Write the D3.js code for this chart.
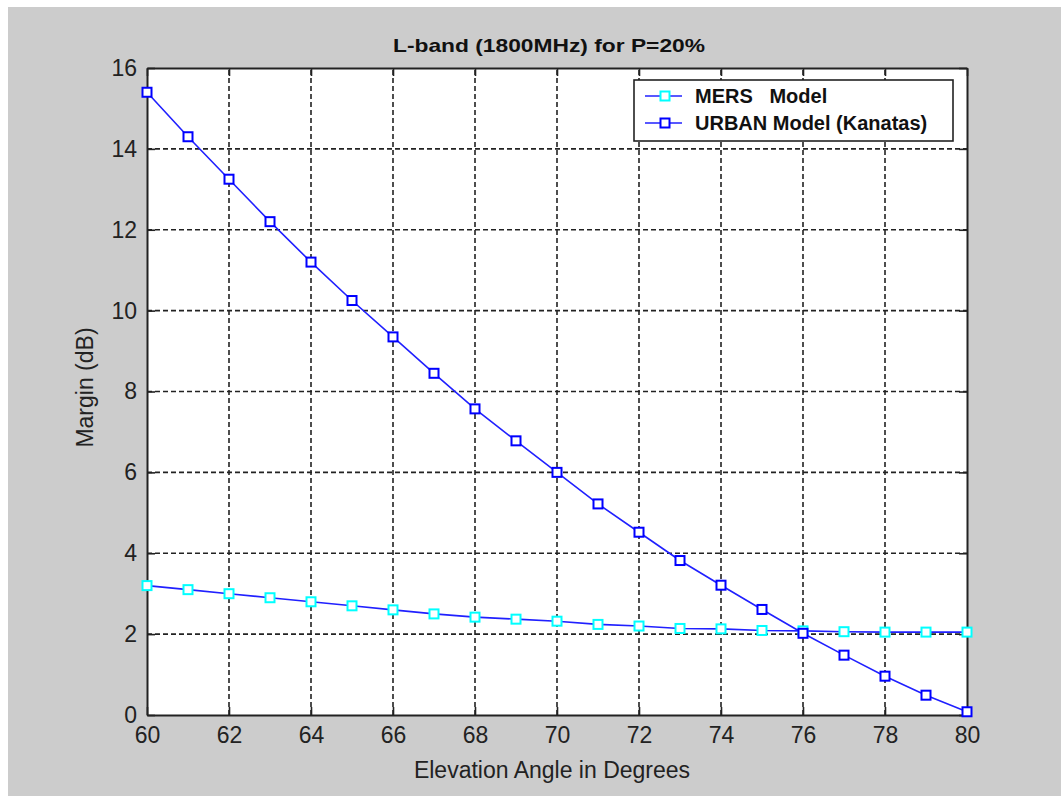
<!DOCTYPE html>
<html>
<head>
<meta charset="utf-8">
<script src="https://cdn.jsdelivr.net/npm/d3@7"></script>
<style>
  body { margin: 0; background: #fff; }
  svg { display: block; }
  text { font-family: "Liberation Sans", Arial, sans-serif; }
</style>
</head>
<body>
<div id="chart"></div>
<script>
// data
var angles = d3.range(60, 81) // 60..80 deg
var mers = [3.2, 3.1, 3.0, 2.9, 2.8, 2.7, 2.6, 2.5, 2.42, 2.37, 2.32, 2.24, 2.2, 2.14, 2.13, 2.09, 2.08, 2.06, 2.05, 2.05, 2.05]
var urban = [15.4, 14.3, 13.25, 12.2, 11.2, 10.25, 9.35, 8.45, 7.57, 6.78, 6.0, 5.22, 4.52, 3.82, 3.21, 2.61, 2.02, 1.48, 0.96, 0.49, 0.08]
var xTicks = [60, 62, 64, 66, 68, 70, 72, 74, 76, 78, 80]
var yTicks = [0, 2, 4, 6, 8, 10, 12, 14, 16]
var seriesNames = ["MERS   Model", "URBAN Model (Kanatas)"]

var W = 1061, H = 796
var margin = {left: 147, right: 94, top: 68, bottom: 81}

var svg = d3.select("#chart").append("svg")
  .attr("width", W).attr("height", H)

// grey figure background
svg.append("rect")
  .attr("x", 8).attr("y", 7)
  .attr("width", W - 8).attr("height", H - 7)
  .attr("fill", "#cccccc")

var x = d3.scaleLinear().domain([60, 80]).range([margin.left, W - margin.right])
var y = d3.scaleLinear().domain([0, 16]).range([H - margin.bottom, margin.top])

var plot = svg.append("g")
plot.append("rect")
  .attr("x", x(60)).attr("y", y(16))
  .attr("width", x(80) - x(60)).attr("height", y(0) - y(16))
  .attr("fill", "#fff")

// dashed grid
plot.selectAll(".vgrid").data(xTicks.slice(1, -1)).enter().append("line")
  .attr("x1", function(d){ return x(d) }).attr("x2", function(d){ return x(d) })
  .attr("y1", y(0)).attr("y2", y(16))
  .attr("stroke", "#222").attr("stroke-width", 1.6).attr("stroke-dasharray", "5,3")
plot.selectAll(".hgrid").data(yTicks.slice(1, -1)).enter().append("line")
  .attr("y1", function(d){ return y(d) }).attr("y2", function(d){ return y(d) })
  .attr("x1", x(60)).attr("x2", x(80))
  .attr("stroke", "#222").attr("stroke-width", 1.6).attr("stroke-dasharray", "5,3")

// axes: ticks inside, like matlab
var tickLen = 8
var axB = d3.axisBottom(x).tickValues(xTicks).tickSizeInner(-tickLen).tickSizeOuter(0).tickPadding(12)
var axT = d3.axisTop(x).tickValues(xTicks).tickSizeInner(-tickLen).tickSizeOuter(0).tickFormat("")
var axL = d3.axisLeft(y).tickValues(yTicks).tickSizeInner(-tickLen).tickSizeOuter(0).tickPadding(10)
var axR = d3.axisRight(y).tickValues(yTicks).tickSizeInner(-tickLen).tickSizeOuter(0).tickFormat("")

function styleAxis(g) {
  g.select(".domain").attr("stroke", "#222").attr("stroke-width", 2)
  g.selectAll(".tick line").attr("stroke", "#222").attr("stroke-width", 1.6)
  g.selectAll(".tick text").attr("fill", "#222").style("font-size", "23px")
    .style("font-family", "'Liberation Sans', Arial, sans-serif")
}
plot.append("g").attr("transform", "translate(0," + y(0) + ")").call(axB).call(styleAxis)
plot.append("g").attr("transform", "translate(0," + y(16) + ")").call(axT).call(styleAxis)
plot.append("g").attr("transform", "translate(" + x(60) + ",0)").call(axL).call(styleAxis)
plot.append("g").attr("transform", "translate(" + x(80) + ",0)").call(axR).call(styleAxis)

// lines
var line = d3.line()
  .x(function(d){ return x(d[0]) })
  .y(function(d){ return y(d[1]) })

var seriesData = [
  {name: seriesNames[0], pts: d3.zip(angles, mers), marker: "#00ffff"},
  {name: seriesNames[1], pts: d3.zip(angles, urban), marker: "#0000ff"}
]

var ms = 9
seriesData.forEach(function(s) {
  plot.append("path")
    .datum(s.pts)
    .attr("d", line)
    .attr("fill", "none")
    .attr("stroke", "#2020ff")
    .attr("stroke-width", 1.6)
  plot.selectAll(null).data(s.pts).enter().append("rect")
    .attr("x", function(d){ return x(d[0]) - ms / 2 })
    .attr("y", function(d){ return y(d[1]) - ms / 2 })
    .attr("width", ms).attr("height", ms)
    .attr("fill", "#fff")
    .attr("stroke", s.marker)
    .attr("stroke-width", 2)
})

// legend
var lg = svg.append("g").attr("transform", "translate(634,80)")
lg.append("rect")
  .attr("width", 319).attr("height", 61)
  .attr("fill", "#fff").attr("stroke", "#222").attr("stroke-width", 1.6)
seriesData.forEach(function(s, i) {
  var cy = 16 + i * 27
  lg.append("line").attr("x1", 11).attr("x2", 48).attr("y1", cy).attr("y2", cy)
    .attr("stroke", "#2020ff").attr("stroke-width", 1.6)
  lg.append("rect").attr("x", 31 - ms / 2).attr("y", cy - ms / 2)
    .attr("width", ms).attr("height", ms)
    .attr("fill", "#fff").attr("stroke", s.marker).attr("stroke-width", 2)
  lg.append("text").attr("x", 61).attr("y", cy + 7)
    .attr("xml:space", "preserve")
    .style("white-space", "pre")
    .style("font-size", "20px").style("font-weight", "bold")
    .attr("fill", "#111")
    .text(s.name)
})

// title and axis labels
svg.append("text")
  .attr("x", 549).attr("y", 52)
  .attr("text-anchor", "middle")
  .attr("textLength", 312).attr("lengthAdjust", "spacingAndGlyphs")
  .style("font-family", "'Liberation Sans Narrow', 'Liberation Sans', Arial, sans-serif")
  .style("font-size", "19px").style("font-weight", "bold")
  .attr("fill", "#111")
  .text("L-band (1800MHz) for P=20%")

svg.append("text")
  .attr("x", 552).attr("y", 778)
  .attr("text-anchor", "middle")
  .style("font-size", "23px").attr("fill", "#222")
  .text("Elevation Angle in Degrees")

svg.append("text")
  .attr("transform", "translate(93," + (y(8) - 4) + ") rotate(-90)")
  .attr("text-anchor", "middle")
  .style("font-size", "23px").attr("fill", "#222")
  .text("Margin (dB)")
</script>
</body>
</html>
